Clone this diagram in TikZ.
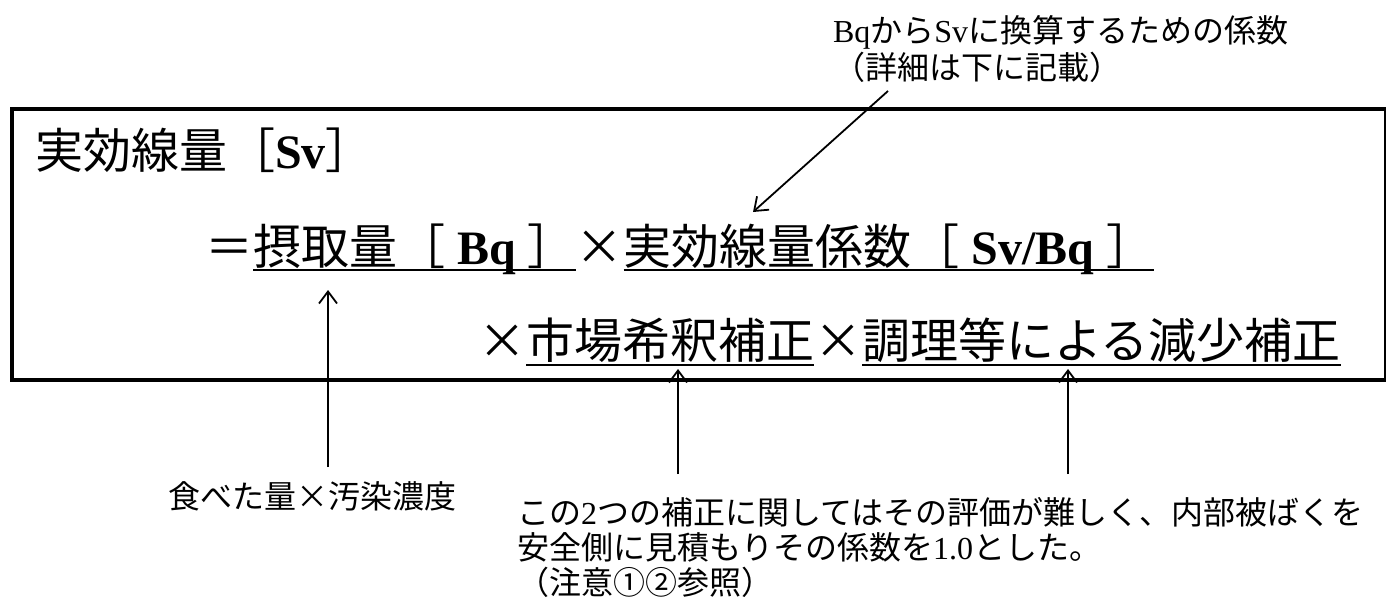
\documentclass[tikz,border=0pt]{standalone}
\usepackage{fontspec}
\setmainfont{Liberation Serif}
\newfontfamily\jp{Noto Sans CJK JP}
\usetikzlibrary{arrows.meta}
\newcommand\bigfs{\fontsize{48}{56}\selectfont}
\newcommand\smfs{\fontsize{32}{34}\selectfont}
\newcommand\jx{\makebox[1em]{×}}
\newcommand\lb[1]{{\rmfamily\bfseries #1}}
\newcommand\lr[1]{{\rmfamily #1}}
\tikzset{
  txt/.style={inner sep=0pt, outer sep=0pt, anchor=base west, font=\bigfs\jp},
  sm/.style={inner sep=0pt, outer sep=0pt, anchor=base west, font=\smfs\jp, align=left},
  ul/.style={line width=2.5pt},
  arr/.style={line width=1.8pt, -{Straight Barb[length=12pt,width=18pt]}},
  frame/.style={line width=4pt}
}
\begin{document}
\begin{tikzpicture}[x=1pt,y=-1pt]
\useasboundingbox (0,0) rectangle (1386,602);
\fill[white] (0,0) rectangle (1386,602);
% frame
\draw[frame] (11.5,108.5) rectangle (1386,380);
% line 1
\node[txt] (t1) at (35,168) {実効線量［\lb{Sv}］};
% line 2
\node[txt] (eq) at (205,264) {＝};
\node[txt] (u1) at (eq.base east) {摂取量［\lb{~Bq~}］};
\node[txt] (x1) at (u1.base east) {\jx\lr{~}};
\node[txt] (u2) at (x1.base east) {実効線量係数［\lb{~Sv/Bq~}］};
\draw[ul] ([yshift=-6pt]u1.base west) -- ([yshift=-6pt]u1.base east);
\draw[ul] ([yshift=-6pt]u2.base west) -- ([yshift=-6pt]u2.base east);
% line 3
\node[txt] (x2) at (478,358) {\jx\lr{~}};
\node[txt] (u3) at (x2.base east) {市場希釈補正};
\node[txt] (x3) at (u3.base east) {\jx};
\node[txt] (u4) at (x3.base east) {調理等による減少補正};
\draw[ul] ([yshift=-7pt]u3.base west) -- ([yshift=-7pt]u3.base east);
\draw[ul] ([yshift=-7pt]u4.base west) -- ([yshift=-7pt]u4.base east);
% top annotation
\node[sm] (top1) at (833,43) {\lr{Bq}から\lr{Sv}に換算するための係数};
\node[sm] (top2) at (833,79) {（詳細は下に記載）};
% bottom labels
\node[sm] (lab1) at (168,508) {食べた量\jx 汚染濃度};
\node[sm] (lab2a) at (517,524) {この\lr{2}つの補正に関してはその評価が難しく、内部被ばくを};
\node[sm] (lab2b) at (517,559) {安全側に見積もりその係数を\lr{1.0}とした。};
\node[sm] (lab2c) at (517,594) {（注意①②参照）};
% arrows
\coordinate (d1) at (888,91);
\coordinate (d2) at (753,212);
\draw[arr] (d1) -- (d2);
\coordinate (a1b) at (328,467);
\coordinate (a1t) at (328,290);
\draw[arr] (a1b) -- (a1t);
\coordinate (a2b) at (678,474);
\coordinate (a2t) at (678,369);
\draw[arr] (a2b) -- (a2t);
\coordinate (a3b) at (1068,474);
\coordinate (a3t) at (1068,369);
\draw[arr] (a3b) -- (a3t);
\end{tikzpicture}
\end{document}
